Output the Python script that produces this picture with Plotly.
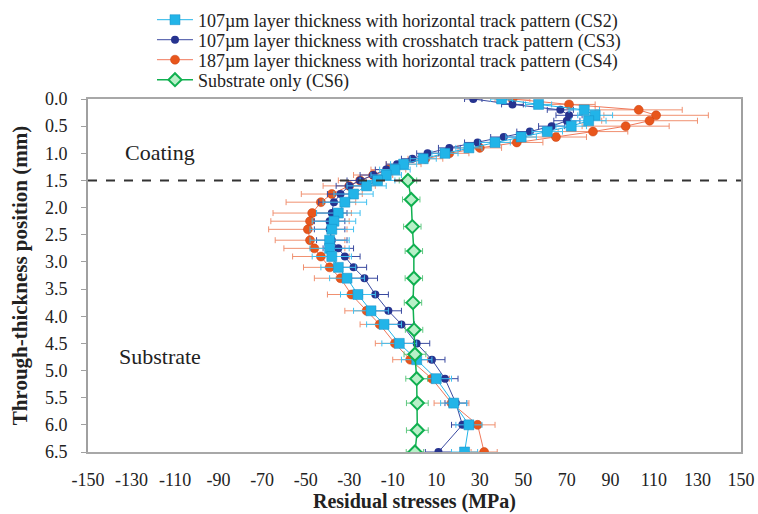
import plotly.graph_objects as go

# Through-thickness positions (mm) shared by CS2/CS3/CS4
depth = [0.0, 0.1, 0.2, 0.3, 0.4, 0.5, 0.6, 0.7, 0.8, 0.9, 1.0, 1.1, 1.2, 1.3, 1.4,
         1.5, 1.6, 1.75, 1.9, 2.1, 2.25, 2.4, 2.6, 2.75, 2.9, 3.1, 3.3, 3.6, 3.9,
         4.15, 4.5, 4.8, 5.15, 5.6, 6.0, 6.5]

cs2 = [40, 57, 78, 83, 80, 72, 61, 49, 37, 25, 14, 4, -5, -9, -13,
       -17, -22, -28, -32, -35, -37, -38, -39, -39, -38, -35, -31, -26, -20,
       -14, -7, 1, 10, 18, 25, 23]
cs2_err = [5, 6, 7, 8, 8, 7, 7, 7, 7, 6, 6, 6, 6, 7, 7,
           8, 9, 9, 10, 10, 10, 10, 9, 9, 9, 8, 8, 8, 8,
           8, 8, 7, 7, 6, 6, 6]

cs3 = [27, 45, 67, 71, 70, 63, 53, 41, 29, 16, 6, -1, -8, -13, -19,
       -25, -30, -34, -37, -38, -39, -39, -38, -35, -32, -28, -23, -18, -12,
       -6, 1, 8, 14, 19, 22, 11]
cs3_err = [4, 5, 6, 6, 6, 6, 6, 6, 6, 5, 5, 5, 5, 5, 6,
           6, 6, 6, 7, 7, 7, 7, 7, 7, 7, 6, 6, 6, 6,
           6, 6, 6, 6, 5, 5, 6]

cs4 = [45, 71, 103, 111, 108, 97, 82, 65, 47, 30, 16, 5, -5, -12, -19,
       -25, -30, -38, -43, -47, -48, -49, -48, -46, -43, -39, -34, -29, -22,
       -16, -9, -2, 8, 17, 29, 32]
cs4_err = [8, 12, 20, 24, 22, 20, 16, 14, 12, 10, 9, 8, 8, 8, 9,
           10, 12, 14, 16, 18, 18, 18, 16, 14, 13, 12, 12, 11, 10,
           9, 9, 8, 8, 8, 8, 6]

depth_cs6 = [1.5, 1.85, 2.35, 2.8, 3.3, 3.75, 4.25, 4.7, 5.15, 5.6, 6.1, 6.5]
cs6 = [-3, -1.5, -1, -0.3, -0.3, -0.7, -0.2, 0.2, 1.0, 1.3, 1.3, 0.2]
cs6_err = [4, 4, 4, 4, 4, 4, 4, 5, 5, 5, 5, 4]

names = [
    "107\u00b5m layer thickness with horizontal track pattern (CS2)",
    "107\u00b5m layer thickness with crosshatch track pattern (CS3)",
    "187\u00b5m layer thickness with horizontal track pattern (CS4)",
    "Substrate only (CS6)",
]
x_ticks = list(range(-150, 151, 20))
y_ticks = [i * 0.5 for i in range(14)]

FONT = "Liberation Serif, Times New Roman, serif"
TXT = "#222222"

fig = go.Figure()

fig.add_trace(go.Scatter(
    x=cs4, y=depth, name=names[2], legend="legend3", mode="lines+markers",
    line=dict(color="#F0785A", width=1),
    marker=dict(symbol="circle", size=9, color="#E8561C", line=dict(color="#C84010", width=0.5)),
    error_x=dict(type="data", array=cs4_err, color="#F09070", thickness=1, width=3),
))
fig.add_trace(go.Scatter(
    x=cs3, y=depth, name=names[1], legend="legend2", mode="lines+markers",
    line=dict(color="#3A4AA0", width=1),
    marker=dict(symbol="circle", size=8, color="#26338F"),
    error_x=dict(type="data", array=cs3_err, color="#3A4AA0", thickness=1, width=3),
))
fig.add_trace(go.Scatter(
    x=cs2, y=depth, name=names[0], legend="legend", mode="lines+markers",
    line=dict(color="#22B4E8", width=1),
    marker=dict(symbol="square", size=10, color="#22B4E8", line=dict(color="#1890C8", width=0.5)),
    error_x=dict(type="data", array=cs2_err, color="#40C0F0", thickness=1, width=3),
))
fig.add_trace(go.Scatter(
    x=cs6, y=depth_cs6, name=names[3], legend="legend4", mode="lines+markers",
    line=dict(color="#10B050", width=1.5),
    marker=dict(symbol="diamond", size=10, color="#B8F0C8", line=dict(color="#10B050", width=2)),
    error_x=dict(type="data", array=cs6_err, color="#60C880", thickness=1, width=3),
))

fig.add_shape(type="line", x0=-150, x1=150, y0=1.5, y1=1.5, xref="x", yref="y",
              line=dict(color="#333333", width=2, dash="dash"))

fig.add_annotation(x=-117, y=0.98, text="Coating", showarrow=False,
                   font=dict(family=FONT, size=22, color=TXT))
fig.add_annotation(x=-117, y=4.75, text="Substrate", showarrow=False,
                   font=dict(family=FONT, size=22, color=TXT))

def leg(ypaper):
    return dict(x=0.098, y=ypaper, xanchor="left", yanchor="middle",
                font=dict(family=FONT, size=18, color=TXT),
                bgcolor="rgba(0,0,0,0)", itemwidth=36, borderwidth=0)

fig.update_layout(
    width=758, height=514,
    margin=dict(l=88, r=17, t=99, b=62, autoexpand=False),
    paper_bgcolor="white", plot_bgcolor="white",
    font=dict(family=FONT, size=18, color=TXT),
    showlegend=True,
    legend=leg(1.2238), legend2=leg(1.1671), legend3=leg(1.1105), legend4=leg(1.0538),
    xaxis=dict(range=[-150, 150], tickmode="array", tickvals=x_ticks,
               ticktext=[str(v) for v in x_ticks], showgrid=False, zeroline=False,
               showline=True, linecolor="#A8A8A8", linewidth=2, mirror=True,
               ticks="", ticklabelstandoff=10, automargin=False,
               tickfont=dict(family=FONT, size=18, color=TXT),
               title=dict(text="<b>Residual stresses (MPa)</b>", standoff=3,
                          font=dict(family=FONT, size=20, color=TXT))),
    yaxis=dict(range=[6.5, 0.0], tickmode="array", tickvals=y_ticks,
               ticktext=["%.1f" % v for v in y_ticks], showgrid=False, zeroline=False,
               showline=True, linecolor="#A0A0A0", linewidth=2, mirror=True,
               ticks="outside", ticklen=5, tickcolor="#A0A0A0", ticklabelstandoff=10,
               automargin=False,
               tickfont=dict(family=FONT, size=18, color=TXT),
               title=dict(text="<b>Through-thickness position (mm)</b>", standoff=12,
                          font=dict(family=FONT, size=21, color=TXT))),
)

fig.write_html("out.html")
